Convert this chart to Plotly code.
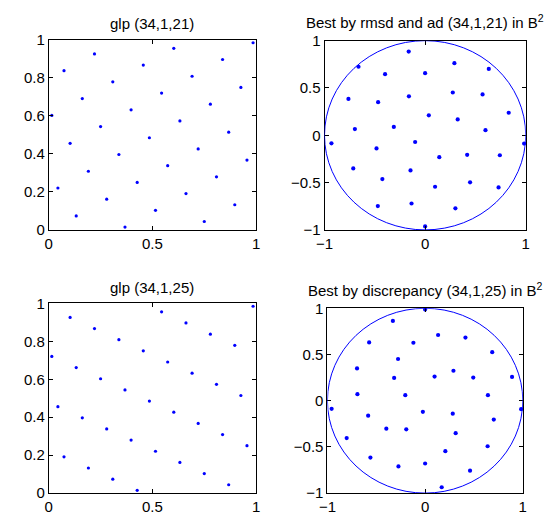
import plotly.graph_objects as go

# ---- data ----
n = 34
glp_x = [(k - 0.5) / n for k in range(1, 35)]
glp21_idx = [20, 7, 28, 15, 2, 23, 10, 31, 18, 5, 26, 13, 0, 21, 8, 29, 16,
             3, 24, 11, 32, 19, 6, 27, 14, 1, 22, 9, 30, 17, 4, 25, 12, 33]
glp25_idx = [24, 15, 6, 31, 22, 13, 4, 29, 20, 11, 2, 27, 18, 9, 0, 25, 16,
             7, 32, 23, 14, 5, 30, 21, 12, 3, 28, 19, 10, 1, 26, 17, 8, 33]
glp21_y = [(m + 0.5) / n for m in glp21_idx]
glp25_y = [(m + 0.5) / n for m in glp25_idx]

disk21_x = [-0.163, -0.662, 0.291, 0.633, -0.398, 0.0, -0.762, -0.161, -0.467, 0.275,
            0.571, 0.831, 0.037, 0.324, -0.311, -0.698, 0.600, -0.931, -0.099, 0.984,
            -0.483, 0.141, 0.418, 0.743, -0.714, -0.145, -0.425, 0.099, 0.447, 0.730,
            -0.470, -0.135, 0.301, 0.0]
disk21_y = [0.884, 0.724, 0.762, 0.701, 0.646, 0.656, 0.384, 0.412, 0.350, 0.452,
            0.432, 0.238, 0.211, 0.167, 0.088, 0.065, 0.054, -0.085, -0.071, -0.088,
            -0.139, -0.231, -0.207, -0.211, -0.350, -0.371, -0.463, -0.544, -0.497, -0.551,
            -0.748, -0.721, -0.772, -0.963]

disk25_x = [0.0, -0.33, 0.133, 0.413, -0.573, -0.12, 0.687, -0.277, -0.697, 0.29,
            -0.317, 0.097, 0.493, 0.89, -0.693, -0.203, 0.643, -0.957, -0.023, 0.983,
            0.283, -0.583, 0.703, -0.397, -0.193, 0.313, -0.803, 0.64, 0.207, -0.56,
            -0.273, 0.0, 0.46, 0.17]
disk25_y = [0.986, 0.863, 0.711, 0.683, 0.630, 0.627, 0.525, 0.451, 0.349, 0.324,
            0.246, 0.261, 0.250, 0.257, 0.070, 0.060, 0.060, -0.088, -0.120, -0.092,
            -0.141, -0.162, -0.204, -0.303, -0.310, -0.352, -0.405, -0.493, -0.546, -0.616,
            -0.711, -0.680, -0.757, -0.937]

titles = ["glp (34,1,21)", "Best by rmsd and ad (34,1,21) in B<sup>2</sup>",
          "glp (34,1,25)", "Best by discrepancy (34,1,25) in B<sup>2</sup>"]

glp_ticks = [0, 0.2, 0.4, 0.6, 0.8, 1]
glp_ticktext = ["0", "0.2", "0.4", "0.6", "0.8", "1"]
glp_xticks = [0, 0.5, 1]
glp_xticktext = ["0", "0.5", "1"]
disk_yticks = [-1, -0.5, 0, 0.5, 1]
disk_yticktext = ["\u22121", "\u22120.5", "0", "0.5", "1"]
disk_xticks = [-1, 0, 1]
disk_xticktext = ["\u22121", "0", "1"]

BLUE = "#0000FF"
W, H = 560, 525
FS = 15

def px_dom_x(a, b):
    return [a / W, b / W]

def px_dom_y(top, bottom):
    return [1 - bottom / H, 1 - top / H]

doms = [
    (px_dom_x(40.7, 253), px_dom_y(32, 228.3)),
    (px_dom_x(323, 529), px_dom_y(32.7, 228.3)),
    (px_dom_x(40.7, 253), px_dom_y(304.3, 500.3)),
    (px_dom_x(326, 526), px_dom_y(309.3, 500.3)),
]
title_y = [15, 13, 288, 290]

fig = go.Figure()
series = [(glp_x, glp21_y, 3.2), (disk21_x, disk21_y, 4.2),
          (glp_x, glp25_y, 3.2), (disk25_x, disk25_y, 4.2)]
for i, (xs, ys, ms) in enumerate(series):
    ax = "" if i == 0 else str(i + 1)
    fig.add_trace(go.Scatter(x=xs, y=ys, mode="markers", xaxis="x" + ax, yaxis="y" + ax,
                             marker=dict(color=BLUE, size=ms, line=dict(width=0)),
                             showlegend=False, cliponaxis=False, hoverinfo="skip"))

font = dict(family="Liberation Sans, Arial, sans-serif", size=FS, color="black")
layout = dict(width=W, height=H, margin=dict(l=0, r=0, t=0, b=0),
              paper_bgcolor="white", plot_bgcolor="white", font=font, showlegend=False)

annotations = []
shapes = []
for i in range(4):
    ax = "" if i == 0 else str(i + 1)
    xd, yd = doms[i]
    is_glp = i in (0, 2)
    common = dict(showline=True, linecolor="black", linewidth=1, mirror="ticks",
                  ticks="inside", ticklen=4, tickwidth=1, tickcolor="black",
                  showgrid=False, zeroline=False, fixedrange=True,
                  tickfont=dict(family=font["family"], size=FS, color="black"))
    if is_glp:
        xa = dict(range=[0, 1], tickvals=glp_xticks, ticktext=glp_xticktext)
        ya = dict(range=[0, 1], tickvals=glp_ticks, ticktext=glp_ticktext)
    else:
        xa = dict(range=[-1, 1], tickvals=disk_xticks, ticktext=disk_xticktext)
        ya = dict(range=[-1, 1], tickvals=disk_yticks, ticktext=disk_yticktext)
    xa.update(common, domain=xd, anchor="y" + ax)
    ya.update(common, domain=yd, anchor="x" + ax)
    layout["xaxis" + ax] = xa
    layout["yaxis" + ax] = ya
    annotations.append(dict(text=titles[i], xref="paper", yref="paper",
                            x=(xd[0] + xd[1]) / 2, y=1 - title_y[i] / H,
                            xanchor="center", yanchor="middle", showarrow=False,
                            font=dict(family=font["family"], size=FS, color="black")))
    if not is_glp:
        shapes.append(dict(type="circle", xref="x" + ax, yref="y" + ax,
                           x0=-1, y0=-1, x1=1, y1=1,
                           line=dict(color=BLUE, width=1)))

layout["annotations"] = annotations
layout["shapes"] = shapes
fig.update_layout(**layout)
fig.write_html("out.html")
